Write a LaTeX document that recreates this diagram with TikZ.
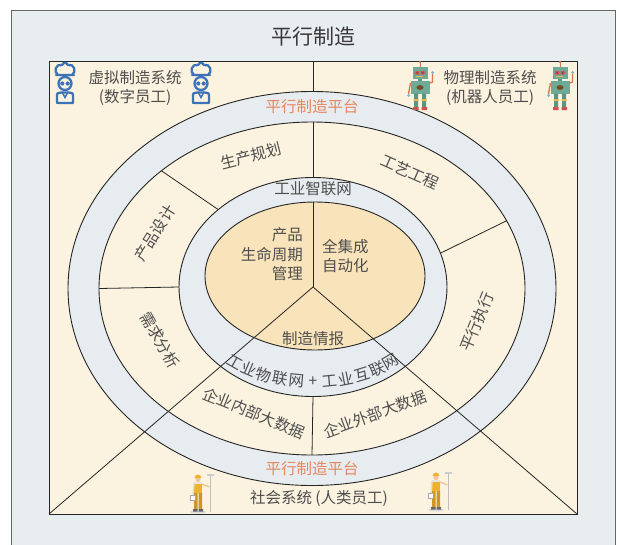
\documentclass[tikz,border=0pt]{standalone}
\usepackage{fontspec}
\setmainfont{Noto Sans CJK SC}
\usepackage{tikz}
\usetikzlibrary{calc}

\definecolor{bggray}{HTML}{E8EDF0}
\definecolor{cream}{HTML}{FBF2DF}
\definecolor{ringblue}{HTML}{E6ECEF}
\definecolor{coretan}{HTML}{F8E3BA}
\definecolor{txtgray}{HTML}{4E4E4E}
\definecolor{platorange}{HTML}{E8875E}
\definecolor{manblue}{HTML}{3D72B8}
\definecolor{robgreen}{HTML}{6EAA95}
\definecolor{robleg}{HTML}{5A9482}
\definecolor{roborange}{HTML}{E07A4A}
\definecolor{robyellow}{HTML}{E6B94A}
\definecolor{robred}{HTML}{D2514A}
\definecolor{robhand}{HTML}{6CB8CC}
\definecolor{workyellow}{HTML}{F0B22E}
\definecolor{skin}{HTML}{F3C49A}

\tikzset{
  lbl/.style={font=\fontsize{15.5}{19.5}\selectfont, text=txtgray, inner sep=1pt},
  plat/.style={lbl, text=platorange},
  ring/.style={fill=ringblue, draw=black!85, line width=0.9pt},
  sep/.style={draw=black!85, line width=0.8pt},
  pics/digiman/.style={code={
    \draw[manblue, line width=2.3pt, line join=round, line cap=round]
      (-9,-9) -- (9,-9)
      (-7,-9) .. controls (-12,-12) and (-9,-21) .. (-3,-19)
        .. controls (-1,-22) and (1,-22) .. (3,-19)
        .. controls (9,-21) and (12,-12) .. (7,-9);
    \draw[manblue, line width=2.3pt] (0,-0.5) circle (6.5pt);
    \fill[manblue] (-2.7,-0.5) circle (2.1pt) (2.7,-0.5) circle (2.1pt);
    \draw[manblue, line width=2.3pt, line join=round]
      (-8,19) -- (-8,13) .. controls (-8,9) .. (-3.5,8.5) -- (3.5,8.5)
      .. controls (8,9) .. (8,13) -- (8,19) -- cycle;
    \draw[manblue, line width=1.5pt] (-2.7,8.5) -- (0,13.5) -- (2.7,8.5);
  }},
  pics/robot/.style={code={
    \draw[roborange, line width=1pt] (0,-19) -- (0,-24);
    \fill[roborange] (0,-24) circle (1.1pt);
    \fill[robgreen] (-7.5,-19) rectangle (7.5,-7);
    \fill[black!45] (-6,-15.5) rectangle (6,-11);
    \fill[robred] (-2.8,-13.2) circle (2pt) (2.8,-13.2) circle (2pt);
    \fill[black!70] (-2.8,-13.2) circle (0.8pt) (2.8,-13.2) circle (0.8pt);
    \fill[robyellow] (-4,-9.8) rectangle (2.5,-8.6);
    \fill[robleg] (-2,-7) rectangle (2,-5);
    \fill[robgreen] (-9.5,-5) rectangle (10,7.5);
    \fill[brown!60!black] (0,1.5) ellipse [x radius=3.5pt, y radius=2.4pt];
    \draw[roborange, line width=1.4pt] (-9.5,-3) -- (-11.5,8);
    \fill[robhand] (-11.5,9.5) circle (1.5pt);
    \draw[roborange, line width=1.4pt] (10,-3) -- (12.5,-4) -- (12.5,-12);
    \fill[robhand] (12.5,-13.5) circle (1.5pt);
    \fill[robleg] (-6,7.5) rectangle (-2,21) (2,7.5) rectangle (6,21);
    \fill[robyellow] (-6.5,13) rectangle (-1.5,15) (1.5,13) rectangle (6.5,15);
    \fill[robred] (-7,21) rectangle (-1.5,24) (1.5,21) rectangle (7,24);
  }},
  pics/worker/.style={code={
    \fill[black!15] (0,20) ellipse [x radius=8pt, y radius=1.5pt];
    \draw[black!25, line width=0.8pt] (12,-17) -- (12,20);
    \fill[black!20] (8.5,-18.5) rectangle (15.5,-16.5);
    \fill[skin] (0,-12.5) circle (2.6pt);
    \fill[workyellow] (-3.4,-14) arc[start angle=180, end angle=0, radius=3.4pt] -- cycle;
    \fill[black!10] (-4,-10) rectangle (4,-5);
    \fill[workyellow] (-4,-8) rectangle (4,1);
    \fill[workyellow!85!black] (-4,1) rectangle (-0.5,17) (0.5,1) rectangle (4,17);
    \fill[black!60] (-5,17) rectangle (-0.5,19.5) (0.5,17) rectangle (5,19.5);
    \draw[skin, line width=1.3pt] (4,-8) -- (11.5,-5);
    \draw[black!12, line width=1.5pt] (-4,-9) -- (-5,3);
    \filldraw[fill=white, draw=black!35, line width=0.4pt] (-7.5,3) rectangle (-3,8.5);
  }},
}

\begin{document}
\begin{tikzpicture}[x=1pt,y=-1pt]
\useasboundingbox (0,0) rectangle (619,544);
\fill[bggray] (11,10) rectangle (615,560);
\draw[black!60, line width=0.8pt] (11,560) -- (11,10) -- (615,10) -- (615,560);
\node[lbl, font=\fontsize{21}{21}\selectfont, text=black!78] (title) at (313,37) {平行制造};

\draw[fill=cream, draw=black!85, line width=0.9pt] (49,61) rectangle (577,514);
\coordinate (top) at (313,61);
\coordinate (bl) at (49,514);
\coordinate (br) at (577,514);
\coordinate (o) at (313,287);
\coordinate (pc) at (312,288.5);
\coordinate (rc) at (313,287);
\coordinate (cc) at (315,276);
\coordinate (p1) at (313,91.5);
\coordinate (p2) at (313,122);
\coordinate (p3) at (313,177.5);
\coordinate (p4) at (313,202);

\draw[ring] (pc) ellipse [x radius=244pt, y radius=197pt];
\draw[fill=cream, draw=black!85, line width=0.9pt] (pc) ellipse [x radius=213pt, y radius=166.5pt];
\draw[ring] (rc) ellipse [x radius=134pt, y radius=109.5pt];
\draw[fill=coretan, draw=black!85, line width=0.9pt] (cc) ellipse [x radius=110pt, y radius=74pt];

\draw[sep] (top) -- (p1) (p2) -- (p3) (p4) -- (o);
\draw[sep] (bl) -- (o) -- (br);
\foreach \a/\b in {225/225, 180/180, -24/-18, 90/90}
  \draw[sep] ($(pc)+({213*cos(\a)},{166.5*sin(\a)})$) -- ($(rc)+({134*cos(\b)},{109.5*sin(\b)})$);

\pic at (65,84) {digiman};
\pic at (201,84) {digiman};
\node[lbl, align=center] (virt) at (135,88) {虚拟制造系统\\(数字员工)};
\pic at (420,86) {robot};
\pic at (560,86) {robot};
\node[lbl, align=center] (phys) at (490,88) {物理制造系统\\(机器人员工)};

\node[plat] (plat1) at (312,107) {平行制造平台};
\node[plat] (plat2) at (312,469) {平行制造平台};
\node[lbl] (smart) at (313,188.5) {工业智联网};

\node[lbl, rotate=14] (plan) at (251,156) {生产规划};
\node[lbl, rotate=-24] (craft) at (410,172) {工艺工程};
\node[lbl, rotate=58] (design) at (155,233) {产品设计};
\node[lbl, rotate=-60] (demand) at (160,340) {需求分析};
\node[lbl, rotate=68] (exec) at (477,322) {平行执行};
\node[lbl, rotate=-22] (inner) at (254,413) {企业内部大数据};
\node[lbl, rotate=20] (outer) at (375,414) {企业外部大数据};

\node[lbl, align=right, anchor=east] (plm) at (304,254.5) {产品\\生命周期\\管理};
\node[lbl, align=left, anchor=west] (auto) at (321,256) {全集成\\自动化};
\node[lbl] (intel) at (313,338.5) {制造情报};

\foreach \ch [count=\i] in {工,业,物,联,网,+,工,业,互,联,网} {
  \pgfmathsetmacro\t{135-\i*7.5}
  \pgfmathsetmacro\r{atan2(95*cos(\t),128*sin(\t))}
  \node[lbl, rotate=\r] (net\i) at ($(rc)+({128*cos(\t)},{95*sin(\t)})$) {\ch};
}

\pic at (198,492) {worker};
\pic at (436,490) {worker};
\node[lbl] (society) at (319,498) {社会系统 (人类员工)};
\end{tikzpicture}
\end{document}
